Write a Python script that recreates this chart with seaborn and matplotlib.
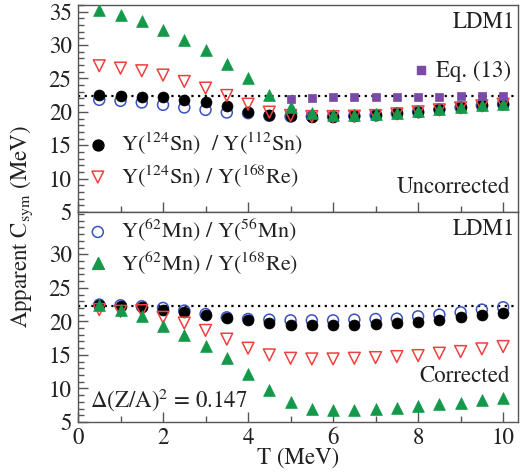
import numpy as np
import pandas as pd
import matplotlib
matplotlib.use("Agg")
import matplotlib.pyplot as plt
import seaborn as sns
from matplotlib.ticker import MultipleLocator

# ---------------- data ----------------
T = [0.5, 1.0, 1.5, 2.0, 2.5, 3.0, 3.5, 4.0, 4.5, 5.0,
     5.5, 6.0, 6.5, 7.0, 7.5, 8.0, 8.5, 9.0, 9.5, 10.0]

# Uncorrected (top panel)
top_sn_sn = [22.45, 22.3, 22.25, 22.15, 21.8, 21.45, 20.8, 20.05, 19.55, 19.45,
             19.3, 19.3, 19.4, 19.5, 19.8, 20.05, 20.4, 20.7, 21.0, 21.2]
top_sn_re = [26.9, 26.55, 26.15, 25.5, 24.55, 23.55, 22.45, 21.15, 19.95, 19.45,
             19.3, 19.3, 19.35, 19.45, 19.7, 20.0, 20.3, 20.6, 20.9, 21.15]
top_mn_mn = [21.8, 21.65, 21.4, 21.05, 20.65, 20.3, 19.9, 19.8, 19.4, 19.3,
             19.3, 19.3, 19.4, 19.5, 19.75, 20.0, 20.35, 20.65, 20.95, 21.15]
top_mn_re = [35.3, 34.55, 33.55, 32.3, 30.8, 29.2, 27.15, 25.0, 22.5, 20.7,
             19.8, 19.55, 19.55, 19.65, 19.8, 20.15, 20.45, 20.7, 21.0, 21.2]
T_eq = [5.0, 5.5, 6.0, 6.5, 7.0, 7.5, 8.0, 8.5, 9.0, 9.5, 10.0]
eq13 = [21.95, 22.1, 22.15, 22.2, 22.2, 22.25, 22.25, 22.25, 22.3, 22.3, 22.3]

# Corrected (bottom panel)
bot_sn_sn = [22.4, 22.25, 22.1, 21.75, 21.35, 20.9, 20.5, 20.15, 19.75, 19.5,
             19.5, 19.5, 19.5, 19.6, 19.75, 19.9, 20.25, 20.6, 20.9, 21.25]
bot_sn_re = [21.75, 21.5, 21.6, 20.6, 19.75, 18.65, 17.35, 16.0, 15.0, 14.5,
             14.4, 14.4, 14.5, 14.6, 14.75, 14.9, 15.25, 15.5, 15.9, 16.25]
bot_mn_mn = [22.5, 22.4, 22.25, 22.0, 21.6, 21.1, 20.6, 20.35, 20.25, 20.15,
             20.15, 20.15, 20.25, 20.35, 20.4, 20.75, 21.0, 21.35, 21.75, 22.1]
bot_mn_re = [22.5, 21.75, 20.75, 19.35, 17.9, 16.4, 14.5, 12.1, 9.75, 8.0,
             7.0, 6.85, 6.85, 7.0, 7.1, 7.4, 7.65, 7.9, 8.25, 8.6]

ref_level = 22.3

lab_sn_sn = r"Y($^{124}$Sn)  / Y($^{112}$Sn)"
lab_sn_re = r"Y($^{124}$Sn) / Y($^{168}$Re)"
lab_mn_mn = r"Y($^{62}$Mn) / Y($^{56}$Mn)"
lab_mn_re = r"Y($^{62}$Mn) / Y($^{168}$Re)"

# ---------------- style ----------------
sns.set_style("ticks")
plt.rcParams["font.family"] = ["STIXGeneral", "DejaVu Serif"]
plt.rcParams["mathtext.fontset"] = "stix"

GREEN = "#14994a"
RED = "#f04040"
BLUE = "#3a52c0"
PURPLE = "#7a4aa6"
BLACK = "#000000"
FRAME = "#555555"
FS = 16.5

fig = plt.figure(figsize=(5.2, 4.76), dpi=100)
L, R = 78 / 520, 518 / 520
ax1 = fig.add_axes([L, 1 - 212 / 476, R - L, (212 - 5) / 476])
ax2 = fig.add_axes([L, 1 - 422 / 476, R - L, (422 - 212) / 476])

S_CIRC = 62
S_TRI = 72
S_SQ = 34


def open_pts(ax, x, y, marker, color, s, z):
    sns.scatterplot(x=x, y=y, ax=ax, marker=marker, s=s, facecolors="none",
                    edgecolors=color, linewidth=1.1, zorder=z, legend=False)


def fill_pts(ax, x, y, marker, color, s, z):
    sns.scatterplot(x=x, y=y, ax=ax, marker=marker, s=s, color=color,
                    edgecolor=color, linewidth=0.5, zorder=z, legend=False)


DOT = (0, (1.0, 2.0))

# top panel
ax1.axhline(ref_level, color="black", ls=DOT, lw=1.6, zorder=2)
open_pts(ax1, T, top_mn_mn, "o", BLUE, S_CIRC, 3)
fill_pts(ax1, T, top_sn_sn, "o", BLACK, S_CIRC, 4)
open_pts(ax1, T, top_sn_re, "v", RED, S_TRI, 5)
fill_pts(ax1, T, top_mn_re, "^", GREEN, S_TRI, 6)
fill_pts(ax1, T_eq, eq13, "s", PURPLE, S_SQ, 7)

# bottom panel
ax2.axhline(ref_level, color="black", ls=DOT, lw=1.6, zorder=2)
open_pts(ax2, T, bot_mn_mn, "o", BLUE, S_CIRC, 3)
fill_pts(ax2, T, bot_sn_sn, "o", BLACK, S_CIRC, 4)
open_pts(ax2, T, bot_sn_re, "v", RED, S_TRI, 5)
fill_pts(ax2, T, bot_mn_re, "^", GREEN, S_TRI, 6)

for ax in (ax1, ax2):
    ax.set_xlim(0, 10.35)
    ax.xaxis.set_major_locator(MultipleLocator(2))
    ax.xaxis.set_minor_locator(MultipleLocator(1))
    ax.yaxis.set_minor_locator(MultipleLocator(1))
    ax.tick_params(which="both", direction="in", top=False, right=False,
                   colors=FRAME, labelcolor="#222222", labelsize=FS, width=1.0)
    ax.tick_params(which="major", length=7)
    ax.tick_params(which="minor", length=4)
    ax.tick_params(axis="y", pad=4.5)
    for sp in ax.spines.values():
        sp.set_visible(True)
        sp.set_color(FRAME)
        sp.set_linewidth(1.0)
    ax.set_xlabel("")
    ax.set_ylabel("")

ax1.set_ylim(5, 36)
ax1.set_yticks([5, 10, 15, 20, 25, 30, 35])
ax1.tick_params(axis="x", labelbottom=False)
ax2.set_ylim(5, 36.3)
ax2.set_yticks([5, 10, 15, 20, 25, 30])
ax2.tick_params(axis="x", pad=4)
ax2.set_xlabel("T (MeV)", fontsize=FS, labelpad=-1, color="#222222")

fig.text(0.042, 0.525, r"Apparent C$_{\rm sym}$ (MeV)", rotation=90,
         ha="center", va="center", fontsize=FS, color="#222222")

# ---- annotations top ----
tc = "#222222"
ax1.text(0.993, 0.889, "LDM1", transform=ax1.transAxes, ha="right",
         va="baseline", fontsize=FS, color=tc)
ax1.scatter([0.78], [0.686], transform=ax1.transAxes, marker="s", s=S_SQ,
            color=PURPLE, clip_on=False)
ax1.text(0.814, 0.652, "Eq. (13)", transform=ax1.transAxes, ha="left",
         va="baseline", fontsize=FS, color=tc)
ax1.scatter([0.045], [0.324], transform=ax1.transAxes, marker="o", s=S_CIRC,
            color=BLACK)
ax1.text(0.098, 0.295, lab_sn_sn, transform=ax1.transAxes, ha="left",
         va="baseline", fontsize=FS - 0.5, color=tc)
ax1.scatter([0.045], [0.169], transform=ax1.transAxes, marker="v", s=S_TRI,
            facecolors="none", edgecolors=RED, linewidths=1.1)
ax1.text(0.098, 0.14, lab_sn_re, transform=ax1.transAxes, ha="left",
         va="baseline", fontsize=FS - 0.5, color=tc)
ax1.text(0.982, 0.092, "Uncorrected", transform=ax1.transAxes, ha="right",
         va="baseline", fontsize=FS, color=tc)

# ---- annotations bottom ----
ax2.text(0.993, 0.89, "LDM1", transform=ax2.transAxes, ha="right",
         va="baseline", fontsize=FS, color=tc)
ax2.scatter([0.045], [0.905], transform=ax2.transAxes, marker="o", s=S_CIRC,
            facecolors="none", edgecolors=BLUE, linewidths=1.1)
ax2.text(0.098, 0.88, lab_mn_mn, transform=ax2.transAxes, ha="left",
         va="baseline", fontsize=FS - 0.5, color=tc)
ax2.scatter([0.045], [0.757], transform=ax2.transAxes, marker="^", s=S_TRI,
            color=GREEN)
ax2.text(0.098, 0.724, lab_mn_re, transform=ax2.transAxes, ha="left",
         va="baseline", fontsize=FS - 0.5, color=tc)
ax2.text(0.982, 0.19, "Corrected", transform=ax2.transAxes, ha="right",
         va="baseline", fontsize=FS, color=tc)
ax2.text(0.027, 0.071, r"Δ(Z/A)$^2$ = 0.147", transform=ax2.transAxes,
         ha="left", va="baseline", fontsize=FS, color=tc)

fig.savefig("out.png", dpi=100)
